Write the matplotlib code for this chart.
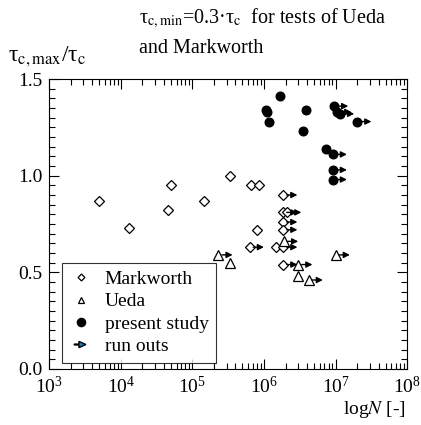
import matplotlib
matplotlib.use('Agg')
import matplotlib.pyplot as plt
import matplotlib.patches as mpatches
from matplotlib.legend_handler import HandlerPatch
from matplotlib.lines import Line2D
from matplotlib.ticker import LogLocator, MultipleLocator, NullFormatter

plt.rcParams['font.family'] = ['Liberation Serif', 'DejaVu Serif']
plt.rcParams['mathtext.fontset'] = 'stix'

# Markworth (open diamonds)
mark_N = [5.0e3, 1.3e4, 5.0e4, 4.5e4, 1.45e5, 3.4e5, 6.6e5, 8.5e5, 8.1e5, 1.45e6]
mark_r = [0.87, 0.73, 0.95, 0.82, 0.87, 1.00, 0.95, 0.95, 0.72, 0.63]
mark_run_N = [6.3e5, 1.85e6, 1.85e6, 2.1e6, 1.85e6, 1.85e6, 1.85e6, 1.85e6]
mark_run_r = [0.63, 0.90, 0.81, 0.81, 0.76, 0.72, 0.63, 0.54]

# Ueda (open triangles)
ueda_N = [3.4e5, 3.0e6]
ueda_r = [0.55, 0.48]
ueda_run_N = [2.3e5, 1.9e6, 3.0e6, 4.2e6, 1.0e7]
ueda_run_r = [0.59, 0.66, 0.54, 0.46, 0.59]

# present study (filled circles)
pres_N = [1.7e6, 1.07e6, 1.1e6, 1.17e6, 3.9e6, 3.5e6, 7.4e6]
pres_r = [1.41, 1.34, 1.33, 1.28, 1.34, 1.23, 1.14]
pres_run_N = [9.5e6, 1.05e7, 1.15e7, 2.0e7, 9.1e6, 9.1e6, 9.1e6]
pres_run_r = [1.36, 1.33, 1.32, 1.28, 1.11, 1.03, 0.98]


def draw_runouts(ax, xs, ys):
    for x, y in zip(xs, ys):
        ax.annotate('', xy=(x * 10 ** 0.2, y), xytext=(x * 10 ** 0.05, y),
                    arrowprops=dict(arrowstyle='-|>', color='black', lw=1.0,
                                    mutation_scale=9, shrinkA=0, shrinkB=0))


def make_arrow(legend, orig_handle, xdescent, ydescent, width, height, fontsize):
    return mpatches.FancyArrow(0.2 * width, 0.5 * height, 0.5 * width, 0,
                               width=0.6, head_width=4.5, head_length=5,
                               length_includes_head=True, color='black')


def main():
    fig = plt.figure(figsize=(4.21, 4.25), dpi=100)
    ax = fig.add_axes([0.117, 0.132, 0.850, 0.682])

    mk = dict(linestyle='none', markeredgecolor='black', markeredgewidth=0.9)
    for xs, ys in ((mark_N, mark_r), (mark_run_N, mark_run_r)):
        ax.plot(xs, ys, marker='D', markersize=5, markerfacecolor='white', **mk)
    for xs, ys in ((ueda_N, ueda_r), (ueda_run_N, ueda_run_r)):
        ax.plot(xs, ys, marker='^', markersize=6.5, markerfacecolor='white', **mk)
    for xs, ys in ((pres_N, pres_r), (pres_run_N, pres_run_r)):
        ax.plot(xs, ys, marker='o', markersize=6.3, markerfacecolor='black', **mk)

    draw_runouts(ax, mark_run_N, mark_run_r)
    draw_runouts(ax, ueda_run_N, ueda_run_r)
    draw_runouts(ax, pres_run_N, pres_run_r)

    ax.set_xscale('log')
    ax.set_xlim(1e3, 1e8)
    ax.set_ylim(0.0, 1.5)
    ax.yaxis.set_major_locator(MultipleLocator(0.5))
    ax.yaxis.set_minor_locator(MultipleLocator(0.05))
    ax.yaxis.set_major_formatter(plt.FormatStrFormatter('%.1f'))
    ax.xaxis.set_major_locator(LogLocator(base=10, numticks=10))
    ax.xaxis.set_minor_locator(LogLocator(base=10, subs=range(2, 10), numticks=10))
    ax.xaxis.set_minor_formatter(NullFormatter())
    ax.tick_params(which='both', direction='in', top=True, right=True, labelsize=14, width=0.8)
    ax.tick_params(which='major', length=7, pad=5)
    ax.tick_params(which='minor', length=4)
    for s in ax.spines.values():
        s.set_linewidth(0.8)

    fig.text(0.33, 0.945, r'τ$_{\mathrm{c,min}}$=0.3·τ$_{\mathrm{c}}$  for tests of Ueda', fontsize=14.5)
    fig.text(0.33, 0.875, 'and Markworth', fontsize=14.5)
    fig.text(0.02, 0.855, r'τ$_{\mathrm{c,max}}$/τ$_{\mathrm{c}}$', fontsize=17)
    fig.text(0.965, 0.025, r'log$N$ [-]', fontsize=14, ha='right')

    handles = [
        Line2D([], [], marker='D', markersize=3.5, markerfacecolor='white', **mk),
        Line2D([], [], marker='^', markersize=4.5, markerfacecolor='white', **mk),
        Line2D([], [], marker='o', markersize=6, markerfacecolor='black', **mk),
        mpatches.FancyArrow(0, 0, 1, 0),
    ]
    labels = ['Markworth', 'Ueda', 'present study', 'run outs']
    leg = ax.legend(handles, labels, loc='lower left', bbox_to_anchor=(0.035, 0.02),
                    fontsize=14, frameon=True, fancybox=False, handlelength=1.2,
                    handletextpad=0.6, labelspacing=0.25, borderpad=0.4,
                    borderaxespad=0,
                    handler_map={mpatches.FancyArrow: HandlerPatch(patch_func=make_arrow)})
    leg.get_frame().set_edgecolor('black')
    leg.get_frame().set_linewidth(0.8)

    fig.savefig('out.png', dpi=100)


if __name__ == '__main__':
    main()
